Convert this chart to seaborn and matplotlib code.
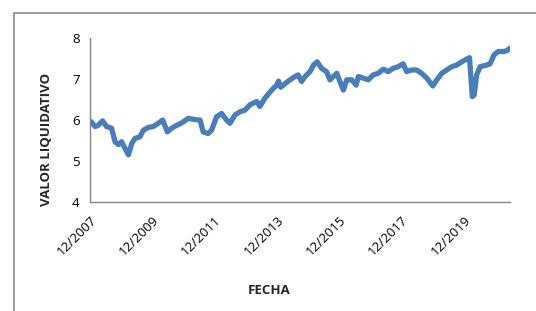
import matplotlib
matplotlib.use('Agg')
import matplotlib.pyplot as plt
import matplotlib.patches as mpatches
import pandas as pd
import seaborn as sns

# ── Data ──────────────────────────────────────────────────────────────────────
anio = [2007.95, 2008.08, 2008.18, 2008.32, 2008.45, 2008.61, 2008.72, 2008.83,
        2008.93, 2009.04, 2009.15, 2009.26, 2009.36, 2009.52, 2009.63, 2009.79,
        2009.95, 2010.11, 2010.25, 2010.40, 2010.54, 2010.70, 2010.86, 2011.07,
        2011.29, 2011.45, 2011.55, 2011.71, 2011.82, 2011.98, 2012.14, 2012.30,
        2012.41, 2012.57, 2012.73, 2012.89, 2013.05, 2013.27, 2013.37, 2013.53,
        2013.75, 2013.91, 2013.97, 2014.04, 2014.18, 2014.34, 2014.50, 2014.60,
        2014.71, 2014.82, 2014.98, 2015.09, 2015.21, 2015.35, 2015.51, 2015.62,
        2015.73, 2015.84, 2015.94, 2016.05, 2016.16, 2016.32, 2016.46, 2016.53,
        2016.69, 2016.85, 2017.01, 2017.17, 2017.33, 2017.49, 2017.65, 2017.81,
        2017.97, 2018.08, 2018.24, 2018.40, 2018.56, 2018.73, 2018.92, 2019.05,
        2019.21, 2019.37, 2019.53, 2019.69, 2019.85, 2020.10, 2020.19, 2020.25,
        2020.33, 2020.44, 2020.65, 2020.76, 2020.89, 2021.02, 2021.19, 2021.30,
        2021.40]
valor = [5.96, 5.84, 5.87, 5.98, 5.84, 5.80, 5.47, 5.40,
         5.47, 5.31, 5.15, 5.43, 5.55, 5.59, 5.75, 5.82,
         5.84, 5.92, 6.00, 5.71, 5.80, 5.87, 5.93, 6.04,
         6.01, 6.00, 5.71, 5.67, 5.75, 6.08, 6.16, 6.00,
         5.92, 6.12, 6.20, 6.24, 6.37, 6.45, 6.33, 6.53,
         6.73, 6.85, 6.95, 6.80, 6.89, 6.98, 7.06, 7.10,
         6.94, 7.06, 7.18, 7.34, 7.42, 7.26, 7.18, 6.98,
         7.06, 7.14, 6.94, 6.73, 6.98, 6.98, 6.85, 7.06,
         7.02, 6.98, 7.10, 7.14, 7.24, 7.18, 7.26, 7.30,
         7.37, 7.18, 7.22, 7.22, 7.14, 7.02, 6.83, 6.98,
         7.14, 7.22, 7.30, 7.34, 7.42, 7.52, 6.57, 6.61,
         7.10, 7.30, 7.34, 7.37, 7.59, 7.67, 7.67, 7.69,
         7.75]

tick_pos = [2007.917, 2009.917, 2011.917, 2013.917, 2015.917, 2017.917, 2019.917]
tick_lab = ['12/2007', '12/2009', '12/2011', '12/2013', '12/2015', '12/2017', '12/2019']
y_ticks = [4, 5, 6, 7, 8]

df = pd.DataFrame({'anio': anio, 'valor': valor})

# ── Style ──────────────────────────────────────────────────────────────────────
sns.set_style('white')
plt.rcParams['font.family'] = ['Open Sans', 'DejaVu Sans']
AXIS_GRAY = '#868686'
LINE_BLUE = '#4a7ebb'

fig = plt.figure(figsize=(5.36, 3.11), dpi=100)
ax = fig.add_axes([90 / 536, 1 - 202 / 311, 420 / 536, 164 / 311])

sns.lineplot(data=df, x='anio', y='valor', ax=ax, color=LINE_BLUE,
             linewidth=3.8, solid_joinstyle='round', solid_capstyle='round')

ax.set_xlim(2007.917, 2021.40)
ax.set_ylim(4, 8)
ax.set_yticks(y_ticks)
ax.set_xticks(tick_pos)
ax.set_xticklabels(tick_lab, rotation=45, ha='right', rotation_mode='anchor')
ax.tick_params(axis='both', colors=AXIS_GRAY, labelcolor='black',
               labelsize=9.5, length=4, width=1, direction='out')
ax.tick_params(axis='x', pad=4)
for side in ['top', 'right']:
    ax.spines[side].set_visible(False)
for side in ['left', 'bottom']:
    ax.spines[side].set_color(AXIS_GRAY)
    ax.spines[side].set_linewidth(1)
ax.set_xlabel('')
ax.set_ylabel('')

fig.text(47 / 536, 1 - 139 / 311, 'VALOR LIQUIDATIVO', rotation=90,
         ha='center', va='center', fontsize=9.5, fontweight='bold')
fig.text(269 / 536, 1 - 290 / 311, 'FECHA', ha='center', va='center',
         fontsize=9.5, fontweight='bold')

# chart-area border (cut off at right and bottom in the reference)
fig.patches.append(mpatches.Rectangle((14 / 536, -0.1), 1.0, 1 - 13 / 311 + 0.1,
                                      transform=fig.transFigure, fill=False,
                                      edgecolor='#8c8c8c', linewidth=1.2))

plt.savefig('out.png', dpi=100)
